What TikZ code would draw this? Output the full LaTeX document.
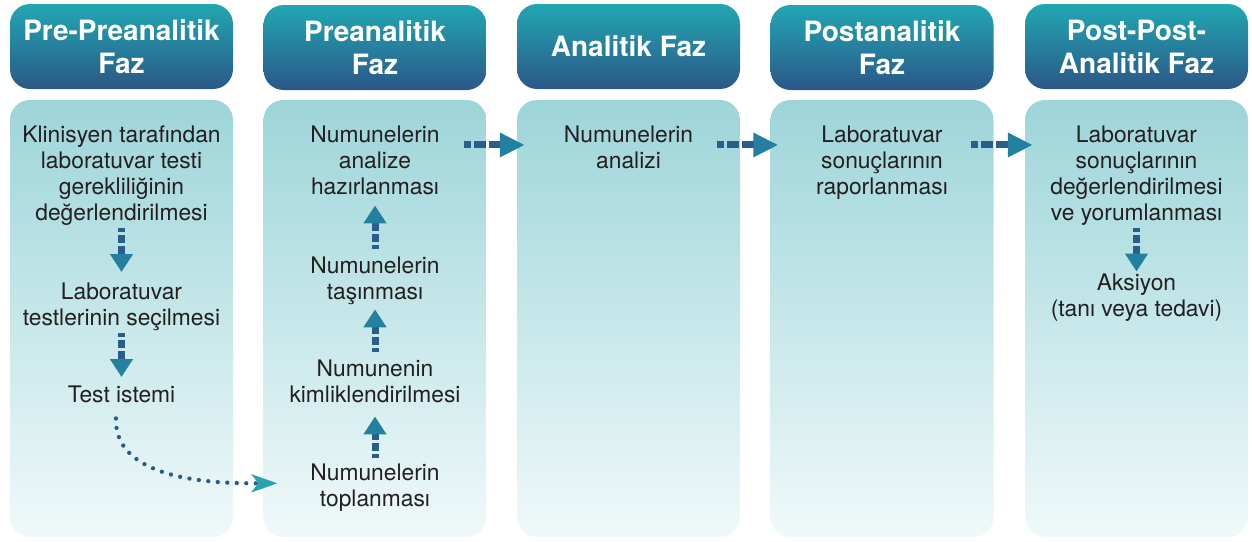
\documentclass[tikz,border=0pt]{standalone}
\usepackage{fontspec}
\setmainfont{TeX Gyre Heros}
\usetikzlibrary{arrows.meta}
\usetikzlibrary{positioning}
\definecolor{hdtop}{HTML}{21A7B2}
\definecolor{hdbot}{HTML}{2B5788}
\definecolor{bdtop}{HTML}{9DD5D9}
\definecolor{bdbot}{HTML}{F0F9FA}
\definecolor{txtgray}{HTML}{231F20}
\definecolor{arrblue}{HTML}{295E8C}
\definecolor{arrtip}{HTML}{24809F}
\definecolor{dotblue}{HTML}{2A5A8A}
\definecolor{dottip}{HTML}{2AA2AF}
\tikzset{
  hdbox/.style={rectangle,rounded corners=20pt,minimum width=223pt,minimum height=85pt,
    top color=hdtop,bottom color=hdbot,draw=none,text=white,align=center,
    font=\fontsize{28}{33}\selectfont\bfseries},
  bdbox/.style={rectangle,rounded corners=20pt,minimum width=223pt,minimum height=437pt,
    top color=bdtop,bottom color=bdbot,draw=none},
  stage/.style={anchor=north,inner sep=0pt,outer sep=0pt,align=center,text=txtgray,
    font=\fontsize{22.8}{26}\selectfont},
  flowarr/.style={draw=arrblue,line width=7pt,
    dash pattern=on 4pt off 3pt on 8pt off 3pt on 300pt off 0pt,
    -{Triangle[length=18pt,width=22pt,color=arrtip]},shorten <=4pt,shorten >=10pt},
  harr/.style={flowarr,dash pattern=on 7pt off 3pt on 12pt off 3pt on 300pt off 0pt,
    -{Triangle[length=25pt,width=23pt,color=arrtip]}},
  dotline/.style={draw=dotblue,line width=4.3pt,line cap=round,dash pattern=on 0pt off 9.5pt,
    -{Stealth[length=26pt,width=18pt,inset=7pt,color=dottip]}},
}
\begin{document}
\begin{tikzpicture}[x=1pt,y=-1pt]
  \useasboundingbox (0,0) rectangle (1252,541);
  %HEADERS
  \node[hdbox] (h1) at (121.5,46.5) {Pre-Preanalitik\\Faz};
  \node[hdbox] (h2) at (375,47.5) {Preanalitik\\Faz};
  \node[hdbox] (h3) at (628.5,46.5) {Analitik Faz};
  \node[hdbox] (h4) at (882,47.5) {Postanalitik\\Faz};
  \node[hdbox] (h5) at (1136.5,46.5) {Post-Post-\\Analitik Faz};
  %BODIES
  \foreach \i/\x in {1/121.5,2/375,3/628.5,4/882,5/1136.5}{
    \node[bdbox] (b\i) at (\x,318.5) {};
  }
  %COLUMN 1
  \node[stage] (k1) at (121.5,125.5) {Klinisyen tarafından\\laboratuvar testi\\gerekliliğinin\\değerlendirilmesi};
  \node[stage] (k2) at (121.5,282.5) {Laboratuvar\\testlerinin seçilmesi};
  \node[stage] (k3) at (121.5,385.5) {Test istemi};
  \draw[flowarr,shorten <=3pt,shorten >=10.5pt] (k1) -- (k2);
  \draw[flowarr,shorten <=3pt,shorten >=8.5pt] (k2) -- (k3);
  %COLUMN 2
  \node[stage] (p4) at (375,125.5) {Numunelerin\\analize\\hazırlanması};
  \node[stage] (p3) at (375,256.5) {Numunelerin\\taşınması};
  \node[stage] (p2) at (375,359.5) {Numunenin\\kimliklendirilmesi};
  \node[stage] (p1) at (375,463.5) {Numunelerin\\toplanması};
  \draw[flowarr,shorten <=6pt,shorten >=14pt] (p1) -- (p2);
  \draw[flowarr,shorten <=8pt,shorten >=5pt] (p2) -- (p3);
  \draw[flowarr,shorten <=8pt,shorten >=11pt] (p3) -- (p4);
  %COLUMN 3
  \node[stage] (a1) at (628.5,125.5) {Numunelerin\\analizi};
  %COLUMN 4
  \node[stage] (r1) at (882,125.5) {Laboratuvar\\sonuçlarının\\raporlanması};
  %COLUMN 5
  \node[stage] (e1) at (1136.5,125.5) {Laboratuvar\\sonuçlarının\\değerlendirilmesi\\ve yorumlanması};
  \node[stage] (e2) at (1136.5,273.5) {Aksiyon\\(tanı veya tedavi)};
  \draw[flowarr,shorten <=3pt,shorten >=2pt] (e1) -- (e2);
  %PHASE ARROWS
  \draw[harr,shorten <=-23pt,shorten >=-8pt] ([yshift=2pt]b2.east |- a1.west) -- ([yshift=2pt]b3.west |- a1.west);
  \draw[harr,shorten <=-23pt,shorten >=-8pt] ([yshift=2pt]b3.east |- a1.west) -- ([yshift=2pt]b4.west |- a1.west);
  \draw[harr,shorten <=-23pt,shorten >=-8pt] ([yshift=2pt]b4.east |- a1.west) -- ([yshift=2pt]b5.west |- a1.west);
  %TEST REQUEST TO COLLECTION
  \draw[dotline,shorten <=16pt,shorten >=33pt] ([xshift=-5pt]k3.south) to[out=-92,in=180] ([yshift=4pt]p1.west);
\end{tikzpicture}
\end{document}
